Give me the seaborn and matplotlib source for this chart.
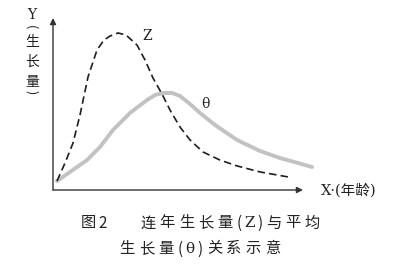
import matplotlib
matplotlib.use("Agg")
import matplotlib.pyplot as plt
import seaborn as sns
import pandas as pd

sns.set_theme(style="white")
plt.rcParams['font.family'] = ['Noto Sans CJK SC', 'DejaVu Sans']

# Z: annual (current) increment
z_age = [0.16, 0.48, 0.80, 1.08, 1.40, 1.76, 2.04, 2.28, 2.60, 2.92, 3.36, 3.68, 4.00,
         4.36, 4.68, 5.08, 5.48, 6.00, 6.68, 7.36, 8.28, 9.40]
z_val = [0.52, 1.57, 2.73, 4.36, 6.57, 8.14, 8.72, 8.95, 9.13, 9.01, 8.43, 7.56, 6.51,
         5.58, 4.65, 3.66, 2.91, 2.21, 1.74, 1.40, 1.05, 0.76]
# theta: mean increment
t_age = [0.16, 0.68, 1.36, 1.88, 2.40, 3.08, 3.76, 4.08, 4.40, 4.76, 5.08, 5.48, 5.88,
         6.48, 7.36, 8.28, 9.08, 10.36]
t_val = [0.52, 1.05, 1.74, 2.50, 3.49, 4.48, 5.23, 5.52, 5.64, 5.64, 5.47, 5.00, 4.48,
         3.78, 2.91, 2.27, 1.86, 1.34]

fig_label = "图2"
caption1 = "连年生长量(Z)与平均"
caption2 = "生长量(θ)关系示意"
y_label = "生长量"
x_label = "X·(年龄)"

W, H = 400, 272
fig = plt.figure(figsize=(4.0, 2.72), dpi=100)
fig.patch.set_facecolor("white")
ax = fig.add_axes([53 / W, (H - 190) / H, 262 / W, 176 / H])
ax.set_xlim(0, 262 / 25)
ax.set_ylim(0, 176 / 17.2)
ax.axis("off")

dz = pd.DataFrame({"age": z_age, "val": z_val})
dt = pd.DataFrame({"age": t_age, "val": t_val})
sns.lineplot(data=dt, x="age", y="val", ax=ax, color="#c2c2c2", lw=2.8, sort=False,
             solid_capstyle="round")
sns.lineplot(data=dz, x="age", y="val", ax=ax, color="#1e1e1e", lw=1.2, sort=False,
             linestyle=(0, (4.5, 2.5)))

# axes with arrows
arrow = dict(arrowstyle="-|>", color="#333333", lw=1.0, mutation_scale=9,
             shrinkA=0, shrinkB=0)
ax.annotate("", xy=(10.0, 0), xytext=(0, 0), arrowprops=arrow, annotation_clip=False)
ax.annotate("", xy=(0, 10.0), xytext=(0, 0), arrowprops=arrow, annotation_clip=False)

ax.text(3.76, 8.95, "Z", fontsize=10, family="DejaVu Serif", color="#222222",
        ha="center", va="center")
ax.text(6.08, 5.0, "θ", fontsize=10, family="DejaVu Serif", color="#222222",
        ha="center", va="center")

def px(x, y):
    return x / W, 1 - y / H

def place_line(text, x0, y, cjk=19.2, half=10.0, size=11):
    x = x0
    for ch in text:
        w = cjk if ord(ch) > 0x2E80 else half
        fig.text(*px(x + w / 2, y), ch, fontsize=size, color="#222222",
                 ha="center", va="center",
                 family=(["DejaVu Serif"] if ch in "Zθ" else None))
        x += w

# axis labels
fig.text(*px(321, 190), x_label, fontsize=10.5, color="#222222", ha="left", va="center",
         family=["DejaVu Serif", "Noto Sans CJK SC"])
fig.text(*px(32, 15), "Y", fontsize=10, family="DejaVu Serif", color="#222222",
         ha="center", va="center")
fig.text(*px(31, 27), "(", fontsize=9, color="#222222", ha="center", va="center",
         rotation=-90)
for i, ch in enumerate(y_label):
    fig.text(*px(32, 42 + 20 * i), ch, fontsize=10, color="#222222",
             ha="center", va="center")
fig.text(*px(31, 92), ")", fontsize=9, color="#222222", ha="center", va="center",
         rotation=-90)

# caption
place_line(fig_label, 80, 223, cjk=17, half=12, size=11)
place_line(caption1, 138.5, 223)
place_line(caption2, 117.5, 249)

fig.savefig("out.png", dpi=100, facecolor="white")
